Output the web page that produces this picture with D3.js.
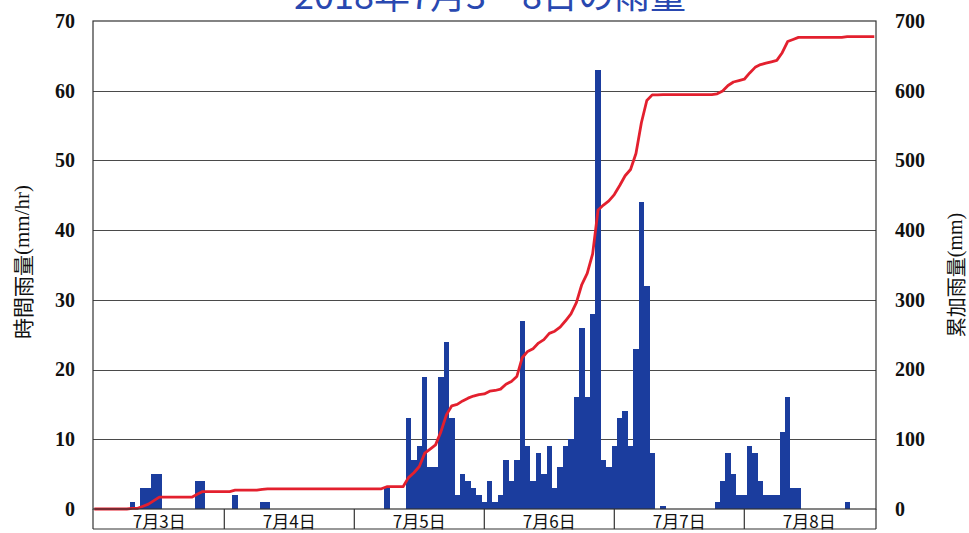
<!DOCTYPE html>
<html>
<head>
<meta charset="utf-8">
<script src="https://cdn.jsdelivr.net/npm/d3@7"></script>
<style>
  body { margin: 0; background: #fff; }
  svg { display: block; }
</style>
</head>
<body>
<svg id="chart" width="969" height="533"></svg>
<script>
// Hourly rainfall (mm/hr), one array per day, hours 1時 .. 24時
const rain0703 = [0,0,0,0,0,0,1,0,3,3,5,5,0,0,0,0,0,0,4,4,0,0,0,0];
const rain0704 = [0,2,0,0,0,0,1,1,0,0,0,0,0,0,0,0,0,0,0,0,0,0,0,0];
const rain0705 = [0,0,0,0,0,3,0,0,0,13,7,9,19,6,6,19,24,13,2,5,4,3,2,1];
const rain0706 = [4,1,2,7,4,7,27,9,4,8,5,9,3,6,9,10,16,26,16,28,63,7,6,9];
const rain0707 = [13,14,9,23,44,32,8,0,0.5,0,0,0,0,0,0,0,0,0,1,4,8,5,2,2];
const rain0708 = [9,8,4,2,2,2,11,16,3,3,0,0,0,0,0,0,0,0,1,0,0,0,0,0];

const dayLabels = ["7月3日", "7月4日", "7月5日", "7月6日", "7月7日", "7月8日"];
const hourlyTicks = [0, 10, 20, 30, 40, 50, 60, 70];
const totalTicks = [0, 100, 200, 300, 400, 500, 600, 700];
const titleText = "2018年7月3～8日の雨量";

const hourly = [].concat(rain0703, rain0704, rain0705, rain0706, rain0707, rain0708);
const cumulative = [0].concat(Array.from(d3.cumsum(hourly)));   // index = hours elapsed

// plot frame
const frame = { left: 93, right: 876, top: 21, bottom: 509 };
const hours = hourly.length;

const x = d3.scaleLinear().domain([0, hours]).range([94.3, 874.3]);
const yL = d3.scaleLinear().domain([0, 70]).range([frame.bottom, frame.top]);
const yR = d3.scaleLinear().domain([0, 700]).range([frame.bottom, frame.top]);

const svg = d3.select("#chart");
const serif = "'Liberation Serif', 'Times New Roman', serif";
const gothic = "'Noto Sans CJK JP', 'Noto Sans', sans-serif";

// title (sits partly above the top edge)
svg.append("text")
  .attr("x", 490).attr("y", 9)
  .attr("text-anchor", "middle")
  .attr("font-family", gothic)
  .attr("font-size", 36)
  .attr("fill", "#2948b0")
  .text(titleText);

// horizontal grid lines
svg.append("g")
  .attr("transform", `translate(${frame.left},0)`)
  .call(d3.axisLeft(yL).tickValues(hourlyTicks.slice(1, -1))
    .tickSize(-(frame.right - frame.left)).tickFormat(""))
  .call(g => g.select(".domain").remove())
  .call(g => g.selectAll("line").attr("stroke", "#4a4a4a").attr("stroke-width", 1)
    .attr("shape-rendering", "crispEdges"));

// hourly bars
svg.append("g")
  .selectAll("rect")
  .data(hourly.map((v, i) => ({ h: i + 1, v })).filter(d => d.v > 0))
  .join("rect")
  .attr("x", d => x(d.h - 0.5))
  .attr("width", d => x(d.h + 0.5) - x(d.h - 0.5))
  .attr("y", d => yL(d.v))
  .attr("height", d => yL(0) - yL(d.v))
  .attr("fill", "#1b3d9e")
  .attr("shape-rendering", "crispEdges");

// cumulative rainfall line
svg.append("path")
  .datum(cumulative)
  .attr("fill", "none")
  .attr("stroke", "#e3202e")
  .attr("stroke-width", 2.8)
  .attr("stroke-linejoin", "round")
  .attr("d", d3.line().x((d, i) => x(i)).y(d => yR(d)));

// plot frame
svg.append("rect")
  .attr("x", frame.left).attr("y", frame.top)
  .attr("width", frame.right - frame.left)
  .attr("height", frame.bottom - frame.top)
  .attr("fill", "none").attr("stroke", "#333").attr("stroke-width", 1.2);

// left axis labels
svg.append("g")
  .attr("transform", `translate(${frame.left},0)`)
  .call(d3.axisLeft(yL).tickValues(hourlyTicks).tickSize(0).tickPadding(18))
  .call(g => g.select(".domain").remove())
  .call(g => g.selectAll("text")
    .attr("font-family", serif).attr("font-weight", "bold")
    .attr("font-size", 20).attr("fill", "#111"));

// right axis labels
svg.append("g")
  .attr("transform", `translate(${frame.right},0)`)
  .call(d3.axisRight(yR).tickValues(totalTicks).tickSize(0).tickPadding(19))
  .call(g => g.select(".domain").remove())
  .call(g => g.selectAll("text")
    .attr("font-family", serif).attr("font-weight", "bold")
    .attr("font-size", 20).attr("fill", "#111"));

// axis titles
function axisTitle(cx, cy, size, jp, unit) {
  const t = svg.append("text")
    .attr("transform", `translate(${cx},${cy}) rotate(-90)`)
    .attr("text-anchor", "middle")
    .attr("dominant-baseline", "central")
    .attr("font-size", size)
    .attr("fill", "#111");
  t.append("tspan").attr("font-family", gothic).text(jp);
  t.append("tspan").attr("font-family", serif).text(unit);
}
axisTitle(22, 262, 21, "時間雨量", "(mm/hr)");
axisTitle(955, 275, 20, "累加雨量", "(mm)");

// date boxes under the plot
const boxTop = frame.bottom, boxBottom = 529;
const dates = svg.append("g");
dates.append("line")
  .attr("x1", frame.left).attr("x2", frame.right)
  .attr("y1", boxBottom).attr("y2", boxBottom)
  .attr("stroke", "#333").attr("stroke-width", 1.2);
const edges = [frame.left].concat(dayLabels.slice(1).map((d, i) => x((i + 1) * 24)), [frame.right]);
dates.selectAll("line.div")
  .data(edges)
  .join("line")
  .attr("class", "div")
  .attr("x1", d => d).attr("x2", d => d)
  .attr("y1", boxTop).attr("y2", boxBottom)
  .attr("stroke", "#333").attr("stroke-width", 1.2);
dates.selectAll("text")
  .data(dayLabels)
  .join("text")
  .attr("x", (d, i) => x(i * 24 + 12))
  .attr("y", (boxTop + boxBottom) / 2 + 1)
  .attr("text-anchor", "middle")
  .attr("dominant-baseline", "central")
  .attr("font-family", gothic)
  .attr("font-size", 17)
  .attr("fill", "#111")
  .text(d => d);
</script>
</body>
</html>
